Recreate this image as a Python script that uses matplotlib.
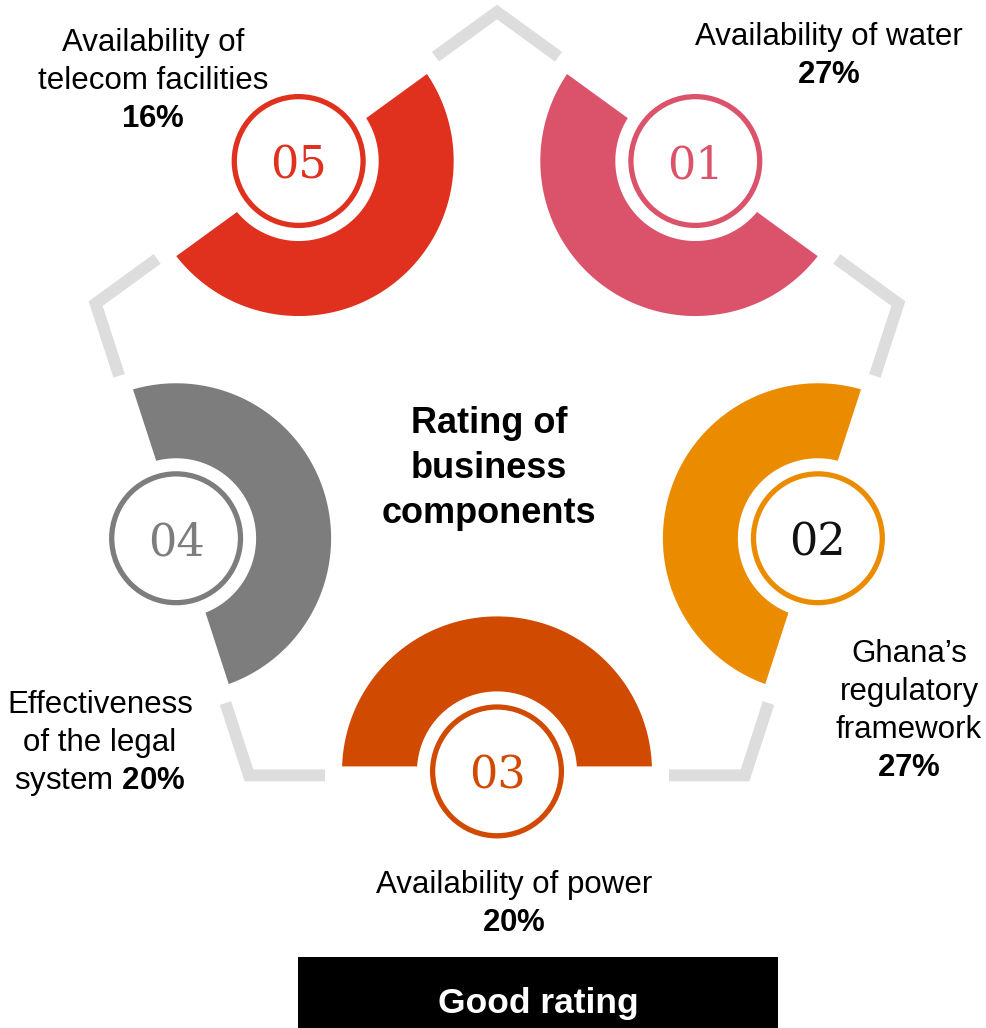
import numpy as np
import matplotlib
matplotlib.use("Agg")
import matplotlib.pyplot as plt
from matplotlib.patches import Polygon, Circle, Rectangle

plt.rcParams['font.family'] = ['Liberation Sans', 'DejaVu Sans']
plt.rcParams['mathtext.fontset'] = 'custom'
plt.rcParams['mathtext.rm'] = 'Liberation Sans'
plt.rcParams['mathtext.bf'] = 'Liberation Sans:bold'

# components, clockwise from the top-right edge of the pentagon
numbers = ["01", "02", "03", "04", "05"]
labels = [
    "Availability of water\n{pct}",
    "Ghana\u2019s\nregulatory\nframework\n{pct}",
    "Availability of power\n{pct}",
    "Effectiveness\nof the legal\nsystem {pct}",
    "Availability of\ntelecom facilities\n{pct}",
]
shares = [27, 27, 20, 20, 16]
colors = ["#DB536A", "#EB8C00", "#D04A02", "#7D7D7D", "#E0301E"]
number_colors = ["#DB536A", "#111111", "#D04A02", "#7D7D7D", "#E0301E"]
title = ["Rating of", "business", "components"]
footer = "Good rating"

# layout (pixels, y pointing down)
W, H = 986, 1028
cx, cy, R = 497, 434, 422
r_out, r_in, cut = 155, 80, 5
ring_r = 64.4
gap_r = 172
label_pos = [(829, 45), (909, 662), (514, 893), (100, 713), (153, 51)]
line_step = 38

fig = plt.figure(figsize=(W / 100, H / 100), dpi=100)
ax = fig.add_axes([0, 0, 1, 1])
ax.set_xlim(0, W)
ax.set_ylim(H, 0)
ax.set_aspect('equal')
ax.axis('off')

ang = np.radians(-90 + 72 * np.arange(5))
verts = np.c_[cx + R * np.cos(ang), cy + R * np.sin(ang)]

# broken pentagon outline around the corners
for k in range(5):
    a, b, c = verts[k - 1], verts[k], verts[(k + 1) % 5]
    p1 = (a + b) / 2 + (b - a) / np.linalg.norm(b - a) * gap_r
    p2 = (b + c) / 2 + (b - c) / np.linalg.norm(b - c) * gap_r
    ax.plot([p1[0], b[0], p2[0]], [p1[1], b[1], p2[1]], color='#DDDDDD',
            lw=8.6, solid_joinstyle='miter', solid_capstyle='butt', zorder=1)

# half rings with numbered circles on each edge
for i in range(5):
    a, b = verts[i], verts[(i + 1) % 5]
    m = (a + b) / 2
    n = np.array([cx, cy]) - m
    n /= np.linalg.norm(n)
    c = m + 4 * n
    th = np.arctan2(n[1], n[0])
    ao, ai = np.arccos(cut / r_out), np.arccos(cut / r_in)
    t_o = np.linspace(th - ao, th + ao, 120)
    t_i = np.linspace(th + ai, th - ai, 120)
    pts = np.r_[np.c_[c[0] + r_out * np.cos(t_o), c[1] + r_out * np.sin(t_o)],
                np.c_[c[0] + r_in * np.cos(t_i), c[1] + r_in * np.sin(t_i)]]
    ax.add_patch(Polygon(pts, closed=True, fc=colors[i], ec='none', zorder=2))
    ax.add_patch(Circle(c, ring_r, fc='white', ec=colors[i], lw=3.8, zorder=3))
    ax.text(c[0], c[1] + 17, numbers[i], ha='center', va='baseline',
            family='DejaVu Serif', fontsize=32, color=number_colors[i], zorder=4)

    pct = r"$\mathbf{%d\%%}$" % shares[i]
    x0, y0 = label_pos[i]
    for j, line in enumerate(labels[i].split("\n")):
        ax.text(x0, y0 + j * line_step, line.replace("{pct}", pct),
                ha='center', va='baseline', fontsize=22.5, color='black')

for j, line in enumerate(title):
    ax.text(489, 433 + j * 45, line, ha='center', va='baseline',
            fontsize=26, fontweight='bold', color='black')

ax.add_patch(Rectangle((298, 957), 480, H - 957, fc='black', ec='none'))
ax.text(538, 1013, footer, ha='center', va='baseline', fontsize=25.5,
        fontweight='bold', color='white')

fig.savefig("out.png", dpi=100)
